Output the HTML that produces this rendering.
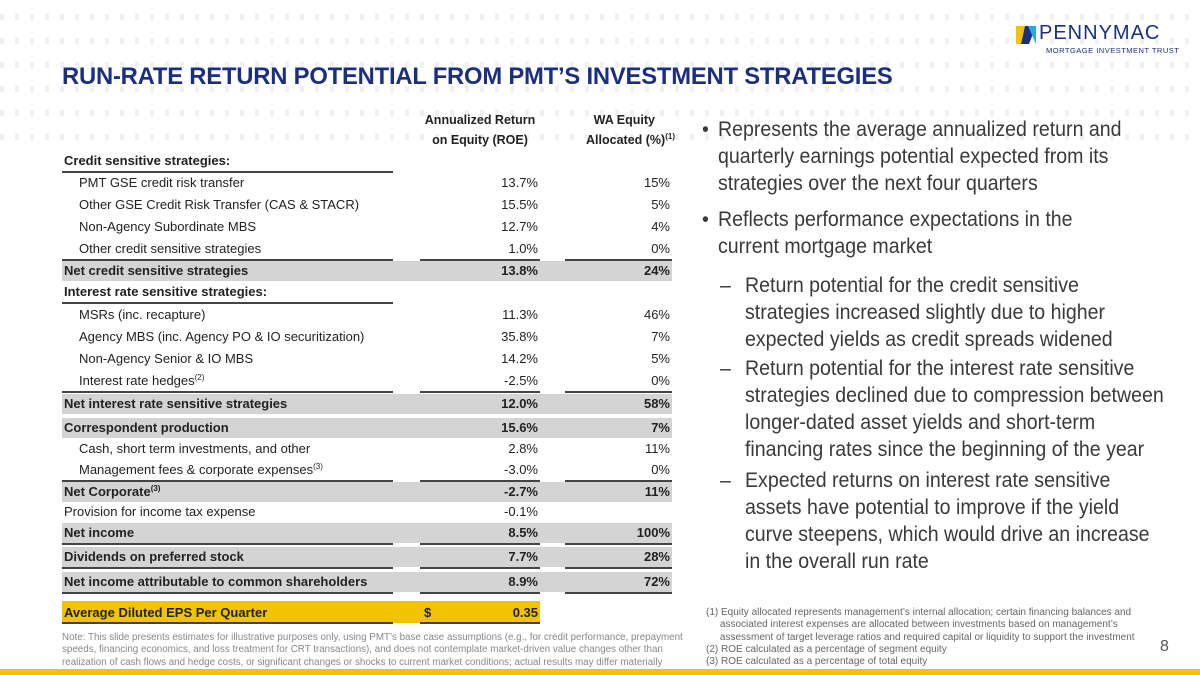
<!DOCTYPE html>
<html><head><meta charset="utf-8">
<style>
body{margin:0;width:1200px;height:675px;overflow:hidden;background:#fff;font-family:"Liberation Sans",sans-serif;position:relative;color:#222}
sup{line-height:0;font-size:8px;vertical-align:5px}
.a{position:absolute;white-space:nowrap}
.dots{position:absolute;left:0;top:14px;width:1200px;height:130px;background-image:repeating-linear-gradient(90deg,#eef0f4 0 4px,transparent 4px 15px);opacity:.9;-webkit-mask:repeating-linear-gradient(180deg,#000 0 6px,transparent 6px 24px);mask:repeating-linear-gradient(180deg,#000 0 6px,transparent 6px 24px)}
.row{position:absolute;left:62px;width:610px;height:20px;font-size:13px;line-height:20px}
.row .l{position:absolute;left:2px}
.row .r1{position:absolute;right:134px}
.row .r2{position:absolute;right:2px}
.g{background:#d4d4d4;font-weight:bold}
.ln{position:absolute;height:2px;background:#444}
.bul{position:absolute;font-size:21.5px;color:#3a3a3a;line-height:27px;white-space:nowrap;transform:scaleX(0.91);transform-origin:0 0}
.fn{position:absolute;font-size:10px;color:#666;line-height:12.3px;white-space:nowrap}
</style></head><body>
<div class="dots"></div>
<div class="a" style="left:1016px;top:24px">
<svg width="20" height="20" style="position:absolute;left:0;top:2px"><polygon points="0,0 9,0 5,18 0,18" fill="#f2c300"/><polygon points="9,0 20,0 13,18 5,18" fill="#1a2f80"/><polygon points="12,0 20,0 20,18" fill="#2aa8e0"/></svg>
<div class="a" style="left:23px;top:-2px;font-size:20px;color:#1a2f80;letter-spacing:1px">PENNYMAC</div>
<div class="a" style="left:30px;top:22px;font-size:7.5px;color:#1a2f80;letter-spacing:.5px">MORTGAGE INVESTMENT TRUST</div>
</div>
<div class="a" style="left:62px;top:63px;font-size:23.8px;font-weight:bold;color:#1a2f80;letter-spacing:-.2px">RUN-RATE RETURN POTENTIAL FROM PMT’S INVESTMENT STRATEGIES</div>
<div class="a" style="left:415px;top:110px;width:130px;text-align:center;font-size:12.5px;font-weight:bold;line-height:20px">Annualized Return<br>on Equity (ROE)</div>
<div class="a" style="left:565px;top:110px;width:110px;text-align:right;font-size:12.5px;font-weight:bold;line-height:20px"><span style="padding-right:20px">WA Equity</span><br>Allocated (%)<sup>(1)</sup></div>
<div id="tbl"></div>
<div class="a" style="left:62px;top:601px;width:478px;height:22px;background:#f2c300;font-weight:bold;font-size:13px;line-height:24px"><span style="position:absolute;left:2px">Average Diluted EPS Per Quarter</span><span style="position:absolute;left:362px">$</span><span style="position:absolute;right:2px">0.35</span></div>
<div class="ln" style="left:62px;top:622px;width:331px"></div><div class="ln" style="left:420px;top:622px;width:120px"></div>
<div>
<div class="bul" style="left:702px;top:116px">•</div><div class="bul" style="left:718px;top:116px">Represents the average annualized return and<br>quarterly earnings potential expected from its<br>strategies over the next four quarters</div>
<div class="bul" style="left:702px;top:206px">•</div><div class="bul" style="left:718px;top:206px">Reflects performance expectations in the<br>current mortgage market</div>
<div class="bul" style="left:720px;top:272px">–</div><div class="bul" style="left:745px;top:272px">Return potential for the credit sensitive<br>strategies increased slightly due to higher<br>expected yields as credit spreads widened</div>
<div class="bul" style="left:720px;top:355px">–</div><div class="bul" style="left:745px;top:355px">Return potential for the interest rate sensitive<br>strategies declined due to compression between<br>longer-dated asset yields and short-term<br>financing rates since the beginning of the year</div>
<div class="bul" style="left:720px;top:467px">–</div><div class="bul" style="left:745px;top:467px">Expected returns on interest rate sensitive<br>assets have potential to improve if the yield<br>curve steepens, which would drive an increase<br>in the overall run rate</div>
</div>
<div class="fn" style="left:706px;top:607px">(1) Equity allocated represents management’s internal allocation; certain financing balances and<br>&nbsp;&nbsp;&nbsp;&nbsp;&nbsp;associated interest expenses are allocated between investments based on management’s<br>&nbsp;&nbsp;&nbsp;&nbsp;&nbsp;assessment of target leverage ratios and required capital or liquidity to support the investment<br>(2) ROE calculated as a percentage of segment equity<br>(3) ROE calculated as a percentage of total equity</div>
<div class="fn" style="left:62px;top:632px;color:#888;font-size:9.8px">Note: This slide presents estimates for illustrative purposes only, using PMT’s base case assumptions (e.g., for credit performance, prepayment<br>speeds, financing economics, and loss treatment for CRT transactions), and does not contemplate market-driven value changes other than<br>realization of cash flows and hedge costs, or significant changes or shocks to current market conditions; actual results may differ materially</div>
<div class="a" style="left:1160px;top:638px;font-size:16px;color:#555">8</div>
<div class="a" style="left:0;top:669px;width:1200px;height:6px;background:#f2c300"></div>
<script>
const labels=["Credit sensitive strategies:","PMT GSE credit risk transfer","Other GSE Credit Risk Transfer (CAS & STACR)","Non-Agency Subordinate MBS","Other credit sensitive strategies","Net credit sensitive strategies","Interest rate sensitive strategies:","MSRs (inc. recapture)","Agency MBS (inc. Agency PO & IO securitization)","Non-Agency Senior & IO MBS","Interest rate hedges<sup>(2)</sup>","Net interest rate sensitive strategies","Correspondent production","Cash, short term investments, and other","Management fees & corporate expenses<sup>(3)</sup>","Net Corporate<sup>(3)</sup>","Provision for income tax expense","Net income","Dividends on preferred stock","Net income attributable to common shareholders"];
const roe=["","13.7%","15.5%","12.7%","1.0%","13.8%","","11.3%","35.8%","14.2%","-2.5%","12.0%","15.6%","2.8%","-3.0%","-2.7%","-0.1%","8.5%","7.7%","8.9%"];
const equity=["","15%","5%","4%","0%","24%","","46%","7%","5%","0%","58%","7%","11%","0%","11%","","100%","28%","72%"];
const kinds=["h","i","i","i","i","g","h","i","i","i","i","g","g","i","i","g","p","g","g","g"];
const tops=[151,173,195,217,239,261,282,305,327,349,371,394,418,439,460,482,502,523,547,572];
const lineAfter=[0,4,6,10,14,17,18,19];
const t=document.getElementById('tbl');
labels.forEach((lb,i)=>{
 const d=document.createElement('div');
 
 
 d.className='row'+(kinds[i]==='g'?' g':'');
 d.style.top=tops[i]+'px';
 const pad=kinds[i]==='i'?17:2;
 d.innerHTML='<span class="l" style="left:'+pad+'px;'+(kinds[i]==='h'?'font-weight:bold':'')+'">'+lb+'</span><span class="r1">'+roe[i]+'</span><span class="r2">'+equity[i]+'</span>';
 t.appendChild(d);
});
lineAfter.forEach(i=>{
 const y=tops[i]+20;
 const segs=(i===0||i===6)?[[62,331]]:[[62,331],[420,120],[565,107]];
 segs.forEach(s=>{const l=document.createElement('div');
 
 
 l.className='ln';l.style.left=s[0]+'px';l.style.width=s[1]+'px';l.style.top=y+'px';t.appendChild(l);});
});
</script>
</body></html>
